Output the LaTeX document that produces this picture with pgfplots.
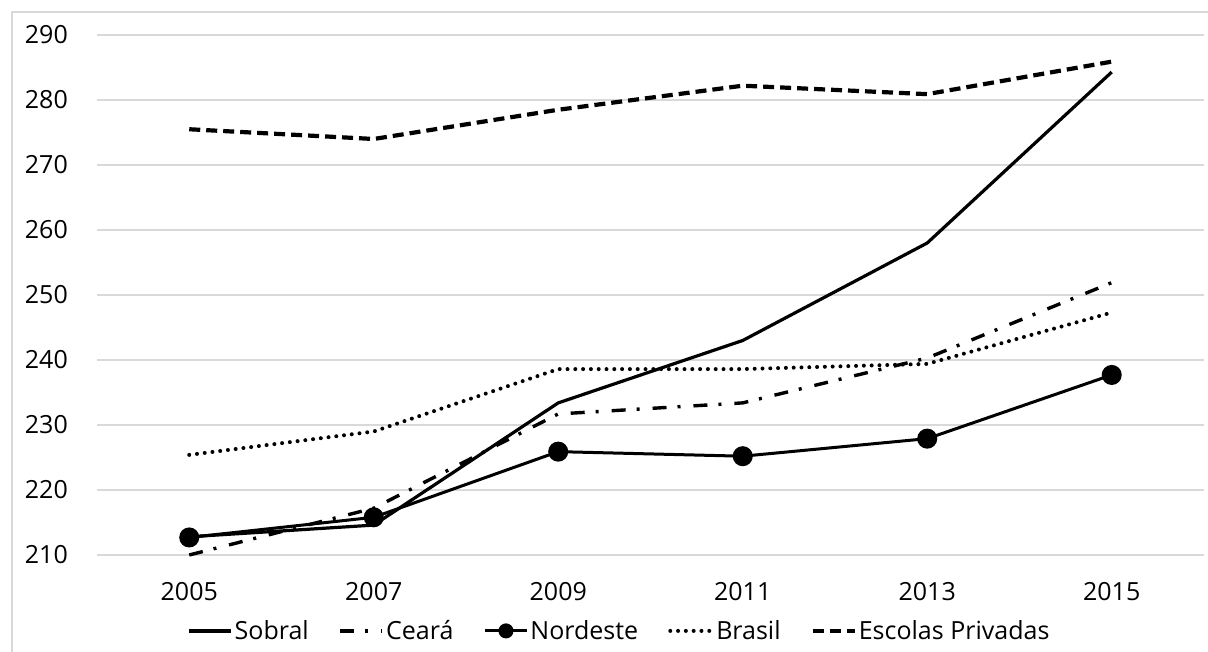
\documentclass[border=0pt]{standalone}
\usepackage{fontspec}
\setmainfont{Open Sans}
\usepackage{pgfplots}
\pgfplotsset{compat=1.18}

\definecolor{gridgray}{HTML}{D9D9D9}

\begin{document}
\begin{tikzpicture}[x=1pt,y=1pt]
\useasboundingbox (0,0) rectangle (1208,652);
% outer chart frame
\draw[gridgray, line width=1.5pt] (12,-20) -- (12,640) -- (1230,640);
\begin{axis}[
  at={(97pt,97pt)}, anchor=south west,
  scale only axis, width=1107pt, height=520pt,
  xmin=-0.5, xmax=5.5, ymin=210, ymax=290,
  xtick={0,1,2,3,4,5},
  xticklabels={2005,2007,2009,2011,2013,2015},
  ytick={210,220,...,290},
  axis line style={draw=none},
  major tick length=0pt,
  ymajorgrids, grid style={gridgray, line width=1.3pt},
  clip=false,
  font=\fontsize{25}{29}\selectfont,
  /pgf/number format/assume math mode=true,
  /pgf/number format/.cd, set thousands separator={}, /pgfplots/.cd,
  xticklabel style={anchor=north, inner ysep=0pt, yshift=-27pt},
  yticklabel style={anchor=east, inner xsep=0pt, xshift=-29pt},
  legend columns=5,
  legend style={at={(0.472,-0.146)}, anchor=center, draw=none, fill=none,
    font=\fontsize{25}{29}\selectfont,
    nodes={inner xsep=2pt, inner ysep=0pt},
    /tikz/every even column/.append style={column sep=28pt}},
  legend image code/.code={%
    \draw[mark repeat=2,mark phase=2,#1] plot coordinates {(0pt,0pt) (21pt,0pt) (42pt,0pt)};},
  legend image post style={mark size=6pt},
]
% Sobral
\addplot[black, line width=3.2pt, line join=round] coordinates {
  (0,212.8) (1,214.6) (2,233.4) (3,243.0) (4,258.0) (5,284.3)};
\addlegendentry{Sobral}
% Ceará
\addplot[black, line width=3.4pt, dash pattern=on 14pt off 11pt on 3pt off 13pt] coordinates {
  (0,210.0) (1,217.2) (2,231.7) (3,233.4) (4,240.3) (5,251.9)};
\addlegendentry{Ceará}
% Nordeste
\addplot[black, line width=3pt, mark=*, mark size=8.5pt] coordinates {
  (0,212.7) (1,215.8) (2,225.9) (3,225.2) (4,227.9) (5,237.7)};
\addlegendentry{Nordeste}
% Brasil
\addplot[black, line width=4pt, line cap=round, dash pattern=on 0pt off 7.8pt] coordinates {
  (0,225.4) (1,229.0) (2,238.6) (3,238.6) (4,239.4) (5,247.3)};
\addlegendentry{Brasil}
% Escolas Privadas
\addplot[black, line width=4.2pt, dash pattern=on 11pt off 6pt] coordinates {
  (0,275.5) (1,274.0) (2,278.5) (3,282.2) (4,280.9) (5,285.9)};
\addlegendentry{Escolas Privadas}
\end{axis}
\end{tikzpicture}
\end{document}
